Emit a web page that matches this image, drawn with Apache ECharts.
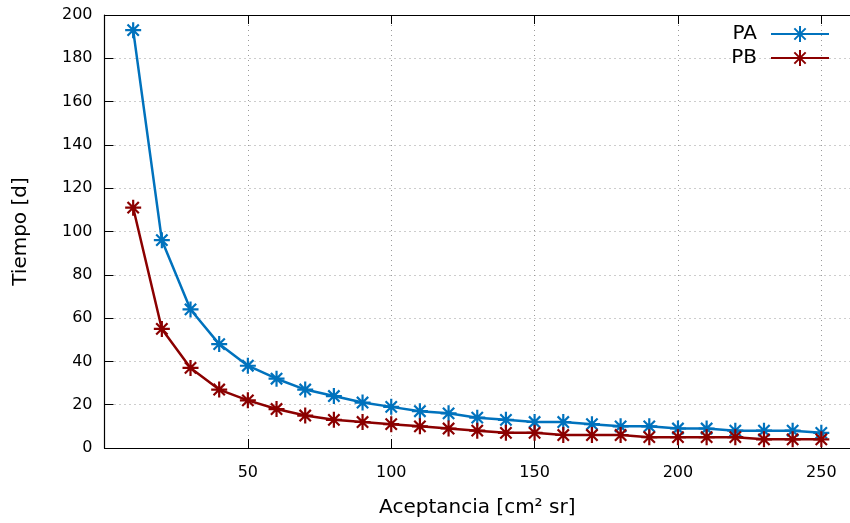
<!DOCTYPE html>
<html>
<head>
<meta charset="utf-8">
<script src="https://cdn.jsdelivr.net/npm/echarts@6/dist/echarts.min.js"></script>
<style>html,body{margin:0;padding:0;background:#fff}#c{width:850px;height:523px}</style>
</head>
<body>
<div id="c"></div>
<script>
const xValues = [10,20,30,40,50,60,70,80,90,100,110,120,130,140,150,160,170,180,190,200,210,220,230,240,250];
const paValues = [193,96,64,48,38,32,27,24,21,19,17,16,14,13,12,12,11,10,10,9,9,8,8,8,7];
const pbValues = [111,55,37,27,22,18,15,13,12,11,10,9,8,7,7,6,6,6,5,5,5,5,4,4,4];
const seriesNames = ['PA', 'PB'];
const seriesColors = ['#0072bd', '#8b0000'];
const xTitle = 'Aceptancia [cm² sr]';
const yTitle = 'Tiempo [d]';

const star = 'path://M0 -10L0 10M-10 0L10 0M-7.07 -7.07L7.07 7.07M-7.07 7.07L7.07 -7.07';
const font = 'DejaVu Sans';
const grid = {type: [1, 4], color: '#9a9a9a', width: 1};

function mk(name, vals, color) {
  return {
    name: name, type: 'line', xAxisIndex: 0, yAxisIndex: 0,
    data: xValues.map((x, i) => [x, vals[i]]),
    symbol: star, symbolSize: 16,
    lineStyle: {color: color, width: 2.5},
    itemStyle: {color: color, borderColor: color, borderWidth: 2.2},
    emphasis: {disabled: true},
    animation: false
  };
}

const chart = echarts.init(document.getElementById('c'), null, {renderer: 'canvas'});
chart.setOption({
  backgroundColor: '#fff',
  animation: false,
  textStyle: {fontFamily: font},
  grid: {left: 104.5, width: 751.5, top: 15, bottom: 72},
  legend: {
    orient: 'vertical', right: 20, top: 24, align: 'right', padding: 0,
    itemWidth: 58, itemHeight: 20, itemGap: 4,
    textStyle: {fontSize: 20, color: '#000', fontFamily: font, padding: [0, 9, 0, 0]},
    data: seriesNames
  },
  xAxis: [{
    type: 'value', min: 0, max: 260, interval: 50, position: 'bottom',
    name: xTitle, nameLocation: 'middle', nameGap: 50,
    nameTextStyle: {fontSize: 20, color: '#000', fontFamily: font},
    axisLine: {show: true, lineStyle: {color: '#000', width: 1.2}},
    axisTick: {show: true, inside: true, length: 9, lineStyle: {color: '#000'}},
    axisLabel: {fontSize: 16, color: '#000', margin: 17, showMinLabel: false, showMaxLabel: false, fontFamily: font},
    splitLine: {show: true, lineStyle: grid}
  }, {
    type: 'value', min: 0, max: 260, interval: 50, position: 'top',
    axisLine: {show: true, lineStyle: {color: '#000', width: 1.2}},
    axisTick: {show: true, inside: true, length: 9, lineStyle: {color: '#000'}},
    axisLabel: {show: false},
    splitLine: {show: false}
  }],
  yAxis: [{
    type: 'value', min: 0, max: 200, interval: 20,
    name: yTitle, nameLocation: 'middle', nameGap: 74, nameRotate: 90,
    nameTextStyle: {fontSize: 20, color: '#000', fontFamily: font},
    axisLine: {show: true, lineStyle: {color: '#000', width: 1.2}},
    axisTick: {show: true, inside: true, length: 9, lineStyle: {color: '#000'}},
    axisLabel: {fontSize: 16, color: '#000', margin: 12, fontFamily: font},
    splitLine: {show: true, lineStyle: grid}
  }],
  series: [mk(seriesNames[0], paValues, seriesColors[0]), mk(seriesNames[1], pbValues, seriesColors[1])]
});
</script>
</body>
</html>
